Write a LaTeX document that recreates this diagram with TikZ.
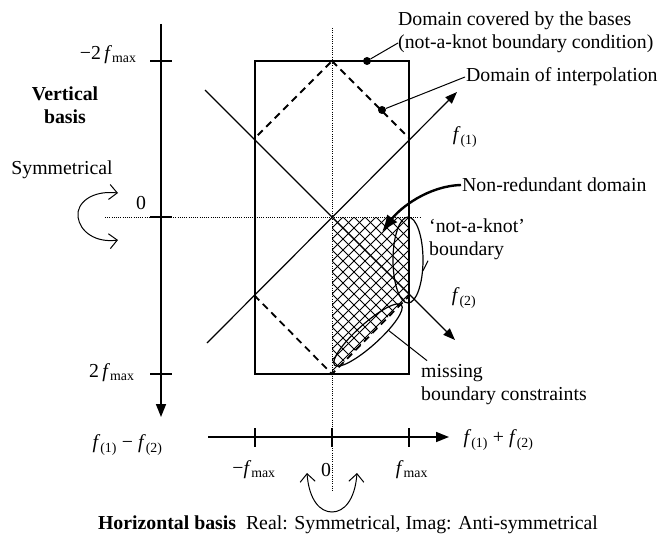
\documentclass[tikz,border=0pt]{standalone}
\usepackage{fontspec}
\setmainfont{Liberation Serif}
\usetikzlibrary{arrows.meta, calc, shapes.geometric}
\newcommand{\fmax}{\textit{f}\textsubscript{max}}
\newcommand{\fk}[1]{\textit{f}\textsubscript{(#1)}}

\begin{document}
\begin{tikzpicture}[x=1pt, y=-1pt, font=\fontsize{19.8}{23}\selectfont,
    axis/.style={line width=1.6pt},
    boxline/.style={line width=1.1pt},
    diag/.style={line width=1.2pt, -{Triangle[length=12pt,width=9pt]}},
    dashdom/.style={line width=1.8pt, dash pattern=on 7pt off 5pt},
    guide/.style={line width=0.8pt, dash pattern=on 1pt off 1.2pt},
    hatch/.style={line width=1pt},
    ring/.style={ellipse, draw, line width=1.2pt, inner sep=0pt},
    dot/.style={circle, fill, inner sep=0pt, minimum size=8pt},
    txt/.style={inner sep=1pt, align=left},
    leader/.style={line width=1pt},
    turn/.style={line width=1pt, {Straight Barb[length=8pt,width=15pt]}-{Straight Barb[length=8pt,width=15pt]}}
  ]
  \useasboundingbox (0,0) rectangle (662,543);

  \draw[boxline] (255,61) rectangle (409,374);
  \begin{scope}
    \clip (332,217) -- (409,217) -- (409,296) -- (332,374) -- cycle;
    \foreach \c in {-110,-99,...,253} {
      \draw[hatch] (332,217+\c) -- ++(120,120);
      \draw[hatch] (332,217+\c) -- ++(120,-120);
    }
  \end{scope}
  \draw[dashdom] (332,61) -- (409,138) -- (409,296) -- (332,374) -- (255,296) -- (255,138) -- cycle;
  \draw[guide] (332,28) -- (332,492);
  \draw[guide] (105,217) -- (420,217);

  \coordinate (ul) at (205,90);
  \coordinate (lr) at (455,340);
  \coordinate (ll) at (207,343);
  \coordinate (ur) at (457,92);
  \draw[diag] (ul) -- (lr);
  \draw[diag] (ll) -- (ur);

  \coordinate (vtop) at (161,24);
  \coordinate (vbot) at (161,417);
  \coordinate (hleft) at (208,437);
  \coordinate (hright) at (449,437);
  \draw[axis, -{Triangle[length=13pt,width=10pt]}] (vtop) -- (vbot);
  \draw[axis, -{Triangle[length=13pt,width=10pt]}] (hleft) -- (hright);
  \foreach \y in {61,217,374} \draw[axis] (150,\y) -- (172,\y);
  \foreach \x in {255,332,409} \draw[axis] (\x,428) -- (\x,447);

  \node[txt, anchor=west] (cover) at (397,32) {Domain covered by the bases\\(not-a-knot boundary condition)};
  \node[txt, anchor=west] (interp) at (465,77) {Domain of interpolation};
  \node[txt, anchor=west] (nonred) at (461,185) {Non-redundant domain};
  \node[txt, anchor=west] (nak) at (428,239) {‘not-a-knot’\\boundary};
  \node[txt, anchor=west] (miss) at (420,385) {missing\\boundary constraints};
  \node (f1) at (465,137) {\fk{1}};
  \node (f2) at (464,298) {\fk{2}};

  \node[align=center] (vbasis) at (65,105) {\textbf{Vertical}\\\textbf{basis}};
  \node (sym) at (62,170) {Symmetrical};
  \node (zv) at (141,203) {0};
  \node[anchor=east] (mtwo) at (140,55) {−2\,\fmax};
  \node[anchor=east] (ptwo) at (138,373) {2\,\fmax};
  \node[anchor=east] (fdiff) at (166,445) {\fk{1} − \fk{2}};
  \node[anchor=west] (fsum) at (460,440) {\fk{1} + \fk{2}};
  \node (mfmax) at (254,470) {−\fmax};
  \node (zh) at (326,470) {0};
  \node (pfmax) at (412,470) {\fmax};
  \node (hbasis) at (348,525) {\textbf{Horizontal basis}\enspace Real: Symmetrical, Imag: Anti-symmetrical};

  \node[dot] (dcover) at (367,61) {};
  \node[dot] (dinterp) at (382,110) {};
  \draw[leader] (dcover) -- ($(cover.west)+(1,11)$);
  \draw[leader] (dinterp) -- (interp.west);

  \node[ring, minimum width=30pt, minimum height=86pt] (nakring) at (408,260) {};
  \node[ring, rotate=42, minimum width=90pt, minimum height=22pt] (missring) at (368,335) {};
  \draw[leader] (nakring.-35) -- (nak.south west);
  \draw[leader] (missring.-30) -- ($(miss.north west)+(7,-3)$);

  \coordinate (nrtip) at (382,232);
  \draw[line width=2.4pt, -{Latex[length=17pt,width=13pt]}] (nonred.west) .. controls (428,186) and (400,208) .. (nrtip);

  \draw[turn] (118,193) .. controls (92,190) and (76,203) .. (78,217) .. controls (80,232) and (96,243) .. (118,240);
  \draw[turn] (307,473) .. controls (309,500) and (320,512) .. (332,512) .. controls (344,512) and (355,500) .. (357,473);
\end{tikzpicture}
\end{document}
